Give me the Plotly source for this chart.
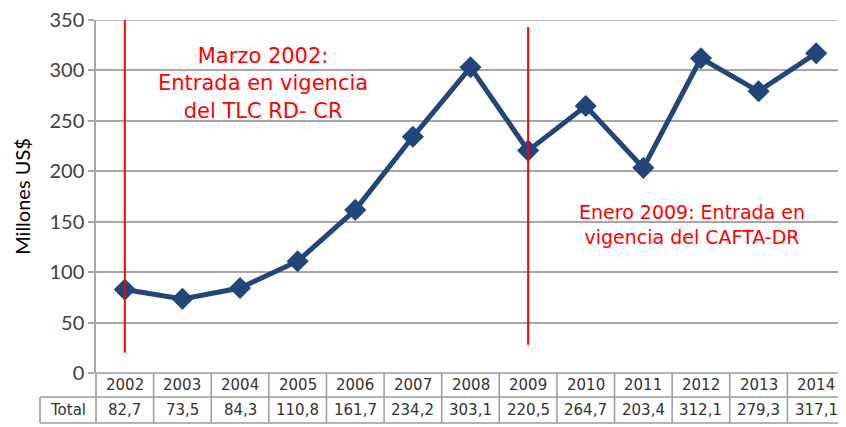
import plotly.graph_objects as go

years = [2002, 2003, 2004, 2005, 2006, 2007, 2008, 2009, 2010, 2011, 2012, 2013, 2014]
values = [82.7, 73.5, 84.3, 110.8, 161.7, 234.2, 303.1, 220.5, 264.7, 203.4, 312.1, 279.3, 317.1]
value_labels = ["82,7", "73,5", "84,3", "110,8", "161,7", "234,2", "303,1", "220,5",
                "264,7", "203,4", "312,1", "279,3", "317,1"]
row_label = "Total"
y_ticks = [0, 50, 100, 150, 200, 250, 300, 350]

# page body has an 8px margin; compensate so the picture lands at target pixels
OFF = 8
W, H = 846 - OFF, 427 - OFF
ML, MR, MT = 96 - OFF, 1, 20 - OFF
plot_h = 353
MB = H - MT - plot_h
plot_w = W - ML - MR

def py(px_img):
    return (373 - px_img) / plot_h

def pxr(px_img):
    return (px_img - 96) / plot_w

navy = "#23467A"
red = "#FF0000"
grid = "#A6A6A6"
border = "#9A9A9A"
tfont = "DejaVu Sans"

fig = go.Figure()
fig.add_trace(go.Scatter(
    x=years, y=values, mode="lines+markers",
    line=dict(color=navy, width=5),
    marker=dict(symbol="diamond", size=17, color=navy),
    showlegend=False, hoverinfo="skip", cliponaxis=False))

shapes = []
shapes.append(dict(type="line", xref="x", yref="y", x0=2002, x1=2002, y0=20, y1=350,
                   line=dict(color=red, width=2)))
shapes.append(dict(type="line", xref="x", yref="y", x0=2009, x1=2009, y0=28, y1=343,
                   line=dict(color=red, width=2)))
# top gridline at 350
shapes.append(dict(type="line", xref="paper", yref="y", x0=0, x1=1, y0=350, y1=350,
                   line=dict(color=grid, width=1.5), layer="below"))

y_top = 0
y_mid = py(397)
y_bot = py(423)
x_left_label = pxr(40)
shapes.append(dict(type="line", xref="paper", yref="paper", x0=0, x1=1, y0=y_top, y1=y_top,
                   line=dict(color=border, width=1.5)))
for yy in (y_mid, y_bot):
    shapes.append(dict(type="line", xref="paper", yref="paper", x0=x_left_label, x1=1, y0=yy, y1=yy,
                       line=dict(color=border, width=1.5)))
shapes.append(dict(type="line", xref="paper", yref="paper", x0=x_left_label, x1=x_left_label,
                   y0=y_mid, y1=y_bot, line=dict(color=border, width=1.5)))
shapes.append(dict(type="line", xref="paper", yref="paper", x0=0, x1=0,
                   y0=y_top, y1=y_bot, line=dict(color=border, width=1.5)))
for yr in years:
    shapes.append(dict(type="line", xref="x", yref="paper", x0=yr + 0.5, x1=yr + 0.5,
                       y0=y_top, y1=y_bot, line=dict(color=border, width=1.5)))

annotations = []
cell_font = dict(family=tfont, size=15, color="#333333")
for yr, lab in zip(years, value_labels):
    annotations.append(dict(x=yr, y=(y_top + y_mid) / 2, xref="x", yref="paper", text=str(yr),
                            showarrow=False, font=cell_font, xanchor="center", yanchor="middle"))
    annotations.append(dict(x=yr, y=(y_mid + y_bot) / 2, xref="x", yref="paper", text=lab,
                            showarrow=False, font=cell_font, xanchor="center", yanchor="middle"))
annotations.append(dict(x=x_left_label / 2, y=(y_mid + y_bot) / 2, xref="paper", yref="paper",
                        text=row_label, showarrow=False, font=cell_font,
                        xanchor="center", yanchor="middle"))

annotations.append(dict(x=2004.4, y=287, xref="x", yref="y",
                        text="Marzo 2002:<br>Entrada en vigencia<br>del TLC RD- CR",
                        showarrow=False, align="center",
                        font=dict(family=tfont, size=21, color=red)))
annotations.append(dict(x=2011.85, y=147, xref="x", yref="y",
                        text="Enero 2009: Entrada en<br>vigencia del CAFTA-DR",
                        showarrow=False, align="center",
                        font=dict(family=tfont, size=19, color=red)))

fig.update_layout(
    width=W, height=H,
    margin=dict(l=ML, r=MR, t=MT, b=MB, autoexpand=False),
    paper_bgcolor="white", plot_bgcolor="white",
    shapes=shapes, annotations=annotations,
    xaxis=dict(range=[2001.5, 2014.5], showticklabels=False, showgrid=False,
               zeroline=False, showline=False, ticks=""),
    yaxis=dict(range=[0, 350.001], tickvals=y_ticks, showgrid=True, gridcolor=grid, gridwidth=1.5,
               zeroline=False, showline=True, linecolor=grid, linewidth=1.5,
               ticks="outside", ticklen=6, tickcolor=grid, tickwidth=1.5,
               ticklabeloverflow="allow",
               tickfont=dict(family="Lato", size=20, color="#404040"),
               title=dict(text="Millones US$", font=dict(family="Lato", size=20, color="#000000"),
                          standoff=13)),
)

fig.write_html("out.html")
